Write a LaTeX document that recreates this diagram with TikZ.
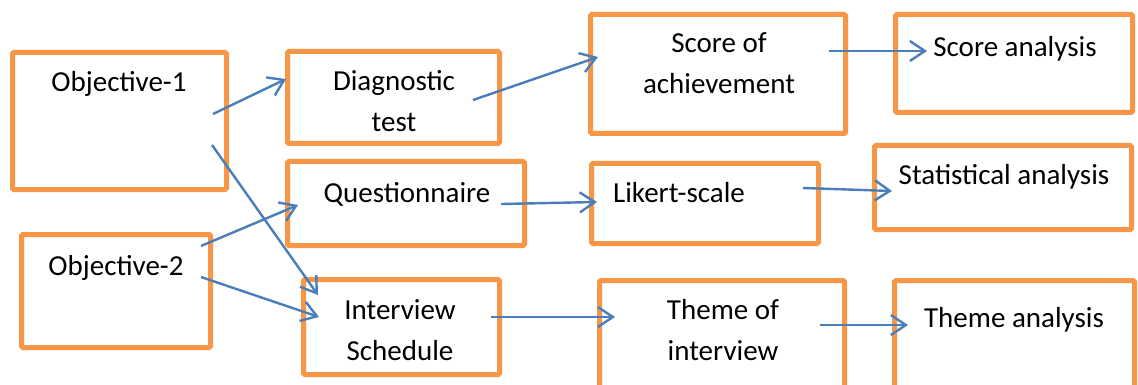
\documentclass[tikz,border=0pt]{standalone}
\usepackage{fontspec}
\setmainfont{Carlito}
\usetikzlibrary{arrows.meta}
\definecolor{boxorange}{HTML}{F79646}
\definecolor{arrowblue}{HTML}{4A7EBB}
\tikzset{
  box/.style={draw=boxorange, line width=5pt, rounded corners=1.5pt, inner sep=0pt, fill=none},
  lbl/.style={inner sep=0pt, align=center, anchor=base, font=\fontsize{29}{41}\selectfont},
  conn/.style={draw=arrowblue, line width=2.4pt, -{Straight Barb[length=15pt,width=20pt]}}
}
\begin{document}
\begin{tikzpicture}[x=1pt,y=-1pt]
\clip (0,0) rectangle (1138,385);
\fill[white] (0,0) rectangle (1138,385);
% boxes
\node[box, minimum width=214pt, minimum height=137pt] (o1) at (119.5,121) {};
\node[box, minimum width=189pt, minimum height=113pt] (o2) at (116,291) {};
\node[box, minimum width=212pt, minimum height=92pt] (diag) at (393.5,97.5) {};
\node[box, minimum width=237pt, minimum height=84pt] (quest) at (406,203.5) {};
\node[box, minimum width=196pt, minimum height=95pt] (intv) at (401.5,327) {};
\node[box, minimum width=255pt, minimum height=119pt] (score) at (718,74) {};
\node[box, minimum width=227pt, minimum height=80pt] (likert) at (705,203.5) {};
\node[box, minimum width=245pt, minimum height=119pt] (themei) at (722,340) {};
\node[box, minimum width=237pt, minimum height=98pt] (scorea) at (1014,63.5) {};
\node[box, minimum width=257pt, minimum height=84pt] (stata) at (1003,187.5) {};
\node[box, minimum width=240pt, minimum height=119pt] (themea) at (1014.5,340) {};
% labels (base anchor = baseline of the last line)
\node[lbl] (t-o1) at (119,92) {Objective-1};
\node[lbl] (t-o2) at (116,275) {Objective-2};
\node[lbl] (t-diag) at (394,132) {Diagnostic\\test};
\node[lbl] (t-quest) at (407,202) {Questionnaire};
\node[lbl] (t-score) at (719,94) {Score of\\achievement};
\node[lbl] (t-scorea) at (1015,57) {Score analysis};
\node[lbl] (t-likert) at (679,202) {Likert-scale};
\node[lbl] (t-stata) at (1004,184) {Statistical analysis};
\node[lbl] (t-intv) at (400,360) {Interview\\Schedule};
\node[lbl] (t-themei) at (723,360) {Theme of\\interview};
\node[lbl] (t-themea) at (1014,327) {Theme analysis};
% connector end points
\coordinate (a1s) at (213,114);
\coordinate (a1e) at (286,79);
\coordinate (a2s) at (212,145);
\coordinate (a2e) at (318,295);
\coordinate (a3s) at (201,246);
\coordinate (a3e) at (298,205);
\coordinate (a4s) at (201,277);
\coordinate (a4e) at (319,317);
\coordinate (a5s) at (473,100);
\coordinate (a5e) at (598,57);
\coordinate (a6s) at (501,204);
\coordinate (a6e) at (597,202);
\coordinate (a7s) at (829,51);
\coordinate (a7e) at (927,51);
\coordinate (a8s) at (803,188);
\coordinate (a8e) at (892,191);
\coordinate (a9s) at (491,317);
\coordinate (a9e) at (615,317);
\coordinate (a10s) at (820,325);
\coordinate (a10e) at (908,325);
% connectors
\draw[conn] (a1s) -- (a1e);
\draw[conn] (a2s) -- (a2e);
\draw[conn] (a3s) -- (a3e);
\draw[conn] (a4s) -- (a4e);
\draw[conn] (a5s) -- (a5e);
\draw[conn] (a6s) -- (a6e);
\draw[conn] (a7s) -- (a7e);
\draw[conn] (a8s) -- (a8e);
\draw[conn] (a9s) -- (a9e);
\draw[conn] (a10s) -- (a10e);
\end{tikzpicture}
\end{document}
